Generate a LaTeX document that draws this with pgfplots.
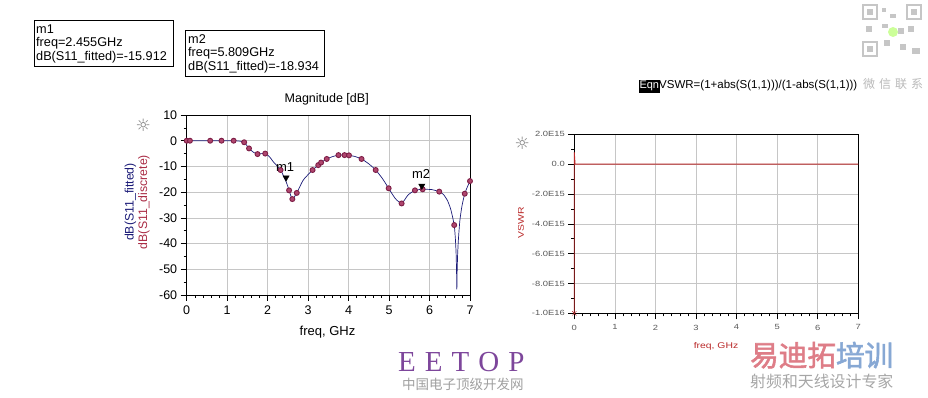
\documentclass[border=0pt]{standalone}
\usepackage{pgfplots}
\pgfplotsset{compat=1.18}
\usepackage{fontspec}
\setmainfont{Liberation Sans}
\newfontfamily\cjk{Noto Sans CJK SC}
\newfontfamily\cjkb[FakeBold=2]{Noto Sans CJK SC}
\newfontfamily\symf{DejaVu Sans}
\newfontfamily\wide[FakeStretch=1.25]{Liberation Sans}
\newfontfamily\serifE{Liberation Serif}
\newcommand\fs[1]{\fontsize{#1}{#1}\selectfont}
\definecolor{navyc}{RGB}{28,28,120}
\definecolor{mardraw}{RGB}{125,30,70}
\definecolor{marfill}{RGB}{175,70,110}
\definecolor{labred}{RGB}{170,45,70}
\definecolor{vred}{RGB}{185,40,40}
\definecolor{eepurple}{RGB}{125,70,155}
\definecolor{ydpink}{RGB}{222,125,135}
\definecolor{ydblue}{RGB}{135,168,212}
\begin{document}
\begin{tikzpicture}
\path[use as bounding box] (0,0) rectangle (928pt,398pt);

% ---------- left plot ----------
\begin{axis}[at={(186.7pt,103pt)}, anchor=south west, scale only axis,
  width=283.3pt, height=180pt,
  xmin=0, xmax=7, ymin=-60, ymax=10,
  xtick={0,...,7}, ytick={-60,-50,...,10},
  minor x tick num=4, minor y tick num=1,
  xtick pos=lower, ytick pos=left,
  grid=major, major grid style={gray!45, line width=0.5pt},
  tick align=outside, major tick length=6pt, minor tick length=3pt,
  tick style={black, line width=0.5pt},
  axis line style={line width=0.8pt},
  ticklabel style={font=\fs{12.5}},
  xticklabel style={yshift=-1pt},
  /pgf/number format/assume math mode=true,
  clip=false]
\addplot[navyc, line width=0.7pt, smooth, tension=0.35] coordinates {
 (0,0) (0.08,0) (0.58,0) (0.86,0) (1.16,0) (1.3,-0.15) (1.42,-0.6) (1.54,-3)
 (1.65,-4.5) (1.75,-5.1) (1.94,-5.0) (2.05,-6.3) (2.14,-8.2) (2.32,-11.4)
 (2.455,-15.9) (2.53,-19.3) (2.61,-22.7) (2.72,-20.3) (2.88,-15.3) (3.11,-11.4)
 (3.25,-9.5) (3.32,-8.5) (3.46,-7.1) (3.6,-6.2) (3.75,-5.6) (3.9,-5.6)
 (4.01,-5.7) (4.15,-6.1) (4.32,-7.1) (4.5,-9) (4.67,-11.4) (4.84,-14.8)
 (4.99,-18.5) (5.15,-22.4) (5.31,-24.4) (5.47,-21.1) (5.64,-19.3) (5.83,-18.9)
 (6.05,-19.0) (6.24,-19.8) (6.35,-21) (6.45,-23.5) (6.53,-27) (6.61,-32.8)
 (6.64,-38.5) (6.657,-44) (6.668,-51) (6.675,-57.8) (6.682,-51) (6.695,-44)
 (6.715,-38) (6.75,-31) (6.8,-25.5) (6.87,-20.6) (6.94,-17.8) (7.0,-15.7)};
\addplot[only marks, mark=*, mark size=2.5pt,
  mark options={draw=mardraw, fill=marfill, line width=0.9pt}] coordinates {
 (0,0) (0.08,0) (0.58,0) (0.86,0) (1.16,0) (1.42,-0.6) (1.54,-3) (1.75,-5.2)
 (1.94,-5.0) (2.32,-11.4) (2.53,-19.3) (2.61,-22.7) (2.72,-20.3) (3.11,-11.4)
 (3.25,-9.5) (3.32,-8.5) (3.46,-7.1) (3.75,-5.6) (3.9,-5.6) (4.01,-5.7)
 (4.32,-7.1) (4.67,-11.4) (4.99,-18.5) (5.31,-24.4) (5.64,-19.3) (5.83,-18.9)
 (6.24,-19.8) (6.61,-32.8) (6.87,-20.6) (7.0,-15.7)};
\addplot[only marks, mark=triangle*, mark size=3.6pt,
  mark options={black, rotate=180, yshift=-4pt}] coordinates {(2.455,-15.912)};
\addplot[only marks, mark=triangle*, mark size=3.6pt,
  mark options={black, rotate=180, yshift=-3.5pt}] coordinates {(5.809,-18.934)};
\node[font=\fs{13}] at (axis cs:2.43,-10.3) {m1};
\node[font=\fs{13}] at (axis cs:5.79,-12.95) {m2};
\end{axis}

% ---------- right plot ----------
\begin{axis}[at={(574.3pt,84.7pt)}, anchor=south west, scale only axis,
  width=284pt, height=179pt,
  xmin=0, xmax=7, ymin=-1e16, ymax=2e15,
  xtick={0,...,7},
  ytick={-1e16,-8e15,-6e15,-4e15,-2e15,0,2e15},
  yticklabels={-1.0E16,-8.0E15,-6.0E15,-4.0E15,-2.0E15,0.0,2.0E15},
  scaled y ticks=false,
  minor x tick num=4, minor y tick num=1,
  xtick pos=lower, ytick pos=left,
  grid=major, major grid style={gray!45, line width=0.5pt},
  tick align=outside, major tick length=6pt, minor tick length=3pt,
  tick style={black, line width=0.5pt},
  axis line style={line width=0.8pt},
  ticklabel style={font=\wide\fs{7.5}, text=black!65},
  xticklabel style={yshift=-2pt},
  /pgf/number format/assume math mode=true,
  clip=false]
\addplot[vred, line width=0.8pt] coordinates {(0,-1e16) (0,8e14) (0.02,1.5) (0.5,1.4) (1,1.3) (2,1.2) (3,1.2) (4,1.3) (5,1.2) (6,1.2) (7,1.4)};
\addplot[only marks, mark=x, mark size=3pt, vred] coordinates {(0,-1e16)};
\end{axis}

% ---------- texts ----------
\draw[line width=0.8pt] (34.3pt,377.3pt) rectangle (173.7pt,332pt);
\node[anchor=base west, inner sep=0, font=\fs{12.7}] at (36pt,364.7pt) {m1};
\node[anchor=base west, inner sep=0, font=\fs{12.7}] at (36pt,351.3pt) {freq=2.455GHz};
\node[anchor=base west, inner sep=0, font=\fs{12.7}] at (36pt,337.3pt) {dB(S11\_fitted)=-15.912};

\draw[line width=0.8pt] (185.7pt,367.3pt) rectangle (324pt,322pt);
\node[anchor=base west, inner sep=0, font=\fs{12.7}] at (188pt,354.3pt) {m2};
\node[anchor=base west, inner sep=0, font=\fs{12.7}] at (188pt,341.3pt) {freq=5.809GHz};
\node[anchor=base west, inner sep=0, font=\fs{12.7}] at (188pt,327.3pt) {dB(S11\_fitted)=-18.934};

\node[anchor=base, font=\fs{12.5}] at (326.7pt,295.3pt) {Magnitude [dB]};
\node[anchor=base, font=\fs{13}] at (327.5pt,62pt) {freq, GHz};
\node[rotate=90, font=\fs{12.3}, text=navyc] at (130.5pt,196pt) {dB(S11\_fitted)};
\node[rotate=90, font=\fs{12.3}, text=labred] at (144pt,196pt) {dB(S11\_discrete)};
\node[font=\symf\fs{17}, text=gray] at (143.3pt,273pt) {☼};
\node[font=\symf\fs{17}, text=gray] at (522.3pt,254.7pt) {☼};

\node[rotate=90, font=\wide\fs{8.3}, text=vred] at (521pt,175pt) {VSWR};
\node[anchor=base, font=\wide\fs{8.3}, text=vred] at (716pt,49pt) {freq, GHz};

\node[anchor=base west, fill=black, text=white, inner xsep=0.8pt, inner ysep=1.5pt, font=\fs{11}] at (638.5pt,309pt) {Eqn};
\node[anchor=base west, inner sep=0, font=\fs{11.5}] at (659pt,309pt) {VSWR=(1+abs(S(1,1)))/(1-abs(S(1,1)))};
\node[anchor=base west, inner sep=0, font=\cjk\fs{12}, text=gray!55] at (863pt,309pt) {微\hspace{4pt}信\hspace{4pt}联\hspace{4pt}系};

% watermarks
\node[anchor=base west, inner sep=0, font=\serifE\fs{29}, text=eepurple] at (398pt,26pt) {E\hspace{9pt}E\hspace{9pt}T\hspace{9pt}O\hspace{9pt}P};
\node[anchor=west, inner sep=0, font=\cjk\fs{13.5}, text=gray!75] at (402pt,14pt) {中国电子顶级开发网};
\node[anchor=base west, inner sep=0, font=\cjkb\fs{28.6}] at (750pt,32pt) {\textcolor{ydpink}{易迪拓}\textcolor{ydblue}{培训}};
\node[anchor=west, inner sep=0, font=\cjk\fs{15.9}, text=gray!70] at (750pt,16.5pt) {射频和天线设计专家};

% QR-like mark
\begin{scope}[gray!45]
\draw[line width=1.5pt] (863pt,393pt) rectangle (877pt,379pt);
\fill (867pt,389pt) rectangle (873pt,383pt);
\draw[line width=1.5pt] (907pt,393pt) rectangle (921pt,379pt);
\fill (911pt,389pt) rectangle (917pt,383pt);
\draw[line width=1.5pt] (863pt,356pt) rectangle (877pt,342pt);
\fill (867pt,352pt) rectangle (873pt,346pt);
\fill (882pt,390pt) rectangle (886pt,386pt);
\fill (890pt,384pt) rectangle (896pt,380pt);
\fill (882pt,374pt) rectangle (888pt,370pt);
\fill (898pt,370pt) rectangle (904pt,364pt);
\fill (908pt,372pt) rectangle (914pt,366pt);
\fill (884pt,358pt) rectangle (890pt,352pt);
\fill (900pt,354pt) rectangle (906pt,348pt);
\fill (912pt,350pt) rectangle (920pt,344pt);
\fill (866pt,372pt) rectangle (872pt,366pt);
\end{scope}
\fill[green!50!yellow, opacity=0.4] (893pt,366pt) circle (5pt);
\end{tikzpicture}
\end{document}
